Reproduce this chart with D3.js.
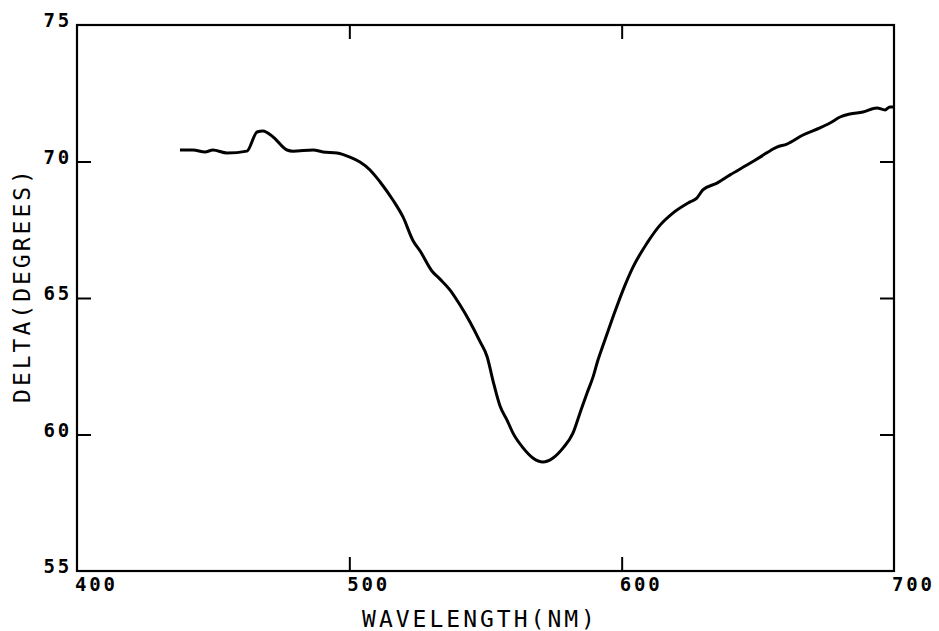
<!DOCTYPE html>
<html lang="en">
    <head>
        <meta charset="utf-8">
        <title>Delta vs Wavelength</title>
        <script type="text/javascript" src="https://cdnjs.cloudflare.com/ajax/libs/d3/7.8.5/d3.min.js"></script>
        <style>
            body { margin: 0; background: #fff; }
            .tick-label { font-family: "DejaVu Sans Mono", monospace; font-weight: bold; font-size: 19px; letter-spacing: 2.8px; fill: #000; }
            .title { font-family: "DejaVu Sans Mono", monospace; font-size: 23px; letter-spacing: 3px; fill: #000; }
        </style>
    </head>
    <body>
        <div id="plot"></div>
        <script type="text/javascript">
            // values
            var wavelength = [437.8, 442.6, 447.0, 449.9, 455.1, 462.4, 466.1, 468.3, 472.0, 477.1,
                              479.3, 486.7, 490.3, 495.5, 500.2, 503.9, 507.6, 511.3, 516.0, 519.7,
                              523.4, 526.0, 530.4, 533.2, 537.0, 540.6, 544.3, 548.0, 550.6, 552.8,
                              555.3, 557.9, 560.1, 563.8, 567.4, 571.1, 574.8, 578.5, 582.1, 584.7,
                              587.3, 589.5, 591.3, 593.2, 596.8, 600.5, 604.2, 609.3, 614.1, 618.8,
                              625.1, 627.6, 629.8, 635.0, 639.8, 646.0, 650.8, 657.0, 660.7, 666.6,
                              672.8, 676.5, 680.2, 683.8, 688.6, 693.7, 696.7, 698.5, 700.0];
            var delta = [70.42, 70.42, 70.35, 70.42, 70.31, 70.38, 71.08, 71.12, 70.90, 70.42,
                         70.38, 70.42, 70.35, 70.31, 70.16, 69.98, 69.69, 69.25, 68.59, 67.97,
                         67.10, 66.72, 65.98, 65.70, 65.29, 64.75, 64.12, 63.40, 62.85, 61.95,
                         61.05, 60.53, 60.05, 59.51, 59.14, 58.99, 59.14, 59.51, 60.05, 60.79,
                         61.52, 62.11, 62.73, 63.28, 64.30, 65.29, 66.14, 67.01, 67.67, 68.11,
                         68.52, 68.66, 68.96, 69.21, 69.51, 69.87, 70.16, 70.53, 70.64, 70.97,
                         71.23, 71.41, 71.63, 71.74, 71.81, 71.96, 71.89, 72.00, 72.00];
            var xTicks = [400, 500, 600, 700];
            var yTicks = [55, 60, 65, 70, 75];

            var width = 939;
            var height = 631;
            var margin = {left: 77, right: 45, top: 25, bottom: 60};

            var xScale = d3.scaleLinear()
                            .domain([400, 700])
                            .range([margin.left, width - margin.right]);
            var yScale = d3.scaleLinear()
                            .domain([55, 75])
                            .range([height - margin.bottom, margin.top]);

            var svg = d3.select("#plot")
                    .append("svg")
                    .attr("width", width)
                    .attr("height", height);

            var tickLen = 14;
            var innerX = xTicks.slice(1, -1);
            var innerY = yTicks.slice(1, -1);

            // inward ticks on all four sides
            svg.append("g")
                .attr("transform", "translate(0," + yScale(55) + ")")
                .call(d3.axisBottom(xScale).tickValues(innerX).tickSize(-tickLen).tickFormat(""))
                .call(function(g){ g.select(".domain").remove(); });
            svg.append("g")
                .attr("transform", "translate(0," + yScale(75) + ")")
                .call(d3.axisTop(xScale).tickValues(innerX).tickSize(-tickLen).tickFormat(""))
                .call(function(g){ g.select(".domain").remove(); });
            svg.append("g")
                .attr("transform", "translate(" + xScale(400) + ",0)")
                .call(d3.axisLeft(yScale).tickValues(innerY).tickSize(-tickLen).tickFormat(""))
                .call(function(g){ g.select(".domain").remove(); });
            svg.append("g")
                .attr("transform", "translate(" + xScale(700) + ",0)")
                .call(d3.axisRight(yScale).tickValues(innerY).tickSize(-tickLen).tickFormat(""))
                .call(function(g){ g.select(".domain").remove(); });
            svg.selectAll(".tick line").attr("stroke", "#000").attr("stroke-width", 2);

            // frame
            svg.append("rect")
                .attr("x", xScale(400))
                .attr("y", yScale(75))
                .attr("width", xScale(700) - xScale(400))
                .attr("height", yScale(55) - yScale(75))
                .attr("fill", "none")
                .attr("stroke", "#000")
                .attr("stroke-width", 2.2);

            // tick labels
            svg.selectAll(".xlab")
                .data(xTicks)
                .enter()
                .append("text")
                .attr("class", "tick-label")
                .attr("x", function(d){ return xScale(d) - 2; })
                .attr("y", yScale(55) + 20)
                .text(function(d){ return d; });

            svg.selectAll(".ylab")
                .data(yTicks)
                .enter()
                .append("text")
                .attr("class", "tick-label")
                .attr("text-anchor", "end")
                .attr("x", xScale(400) - 5)
                .attr("y", function(d){ return yScale(d) + 2; })
                .text(function(d){ return d; });

            // axis titles
            svg.append("text")
                .attr("class", "title")
                .attr("text-anchor", "middle")
                .attr("x", 480)
                .attr("y", 627)
                .text("WAVELENGTH(NM)");

            svg.append("text")
                .attr("class", "title")
                .attr("text-anchor", "middle")
                .attr("transform", "translate(30,285) rotate(-90)")
                .text("DELTA(DEGREES)");

            // the curve
            var points = wavelength.map(function(w, i){ return [w, delta[i]]; });
            var line = d3.line()
                        .x(function(d){ return xScale(d[0]); })
                        .y(function(d){ return yScale(d[1]); })
                        .curve(d3.curveMonotoneX);

            svg.append("path")
                .datum(points)
                .attr("d", line)
                .attr("fill", "none")
                .attr("stroke", "#000")
                .attr("stroke-width", 3)
                .attr("stroke-linejoin", "round");
        </script>
    </body>
</html>
